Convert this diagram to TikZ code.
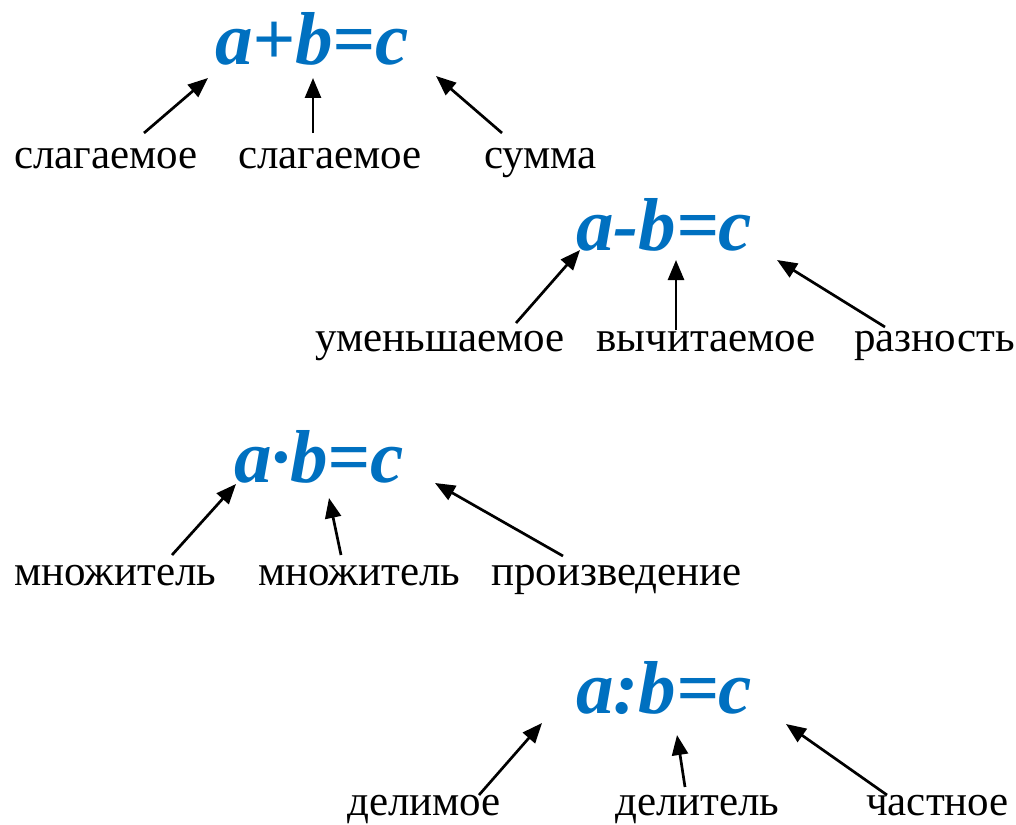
\documentclass[tikz,border=0pt]{standalone}
\usepackage{fontspec}
\setmainfont{Liberation Serif}
\usetikzlibrary{arrows.meta}
\definecolor{formulablue}{HTML}{0070C0}
\tikzset{
  formula/.style={anchor=base west, inner sep=0pt, text=formulablue,
    font=\fontsize{75}{82}\selectfont\bfseries\itshape},
  term/.style={anchor=base west, inner sep=0pt, font=\fontsize{43}{49}\selectfont},
  pointer/.style={line width=2.7pt, -{Triangle[length=20pt,width=16pt]}}
}
\begin{document}
\begin{tikzpicture}[x=1pt,y=-1pt]
\useasboundingbox (0,0) rectangle (1016,824);

% addition
\node[formula] (f1) at (215,65) {a+b=c};
\node[term] (s1) at (14,168) {слагаемое};
\node[term] (s2) at (238,168) {слагаемое};
\node[term] (s3) at (484,168) {сумма};
\coordinate (s1t) at (144,133); \coordinate (f1a) at (208,78);
\coordinate (s2t) at (313,133); \coordinate (f1b) at (313,78);
\coordinate (s3t) at (502,133); \coordinate (f1c) at (436,76);
\draw[pointer] (s1t) -- (f1a);
\draw[pointer] (s2t) -- (f1b);
\draw[pointer] (s3t) -- (f1c);

% subtraction
\node[formula] (f2) at (576,250) {a-b=c};
\node[term] (d1) at (315,351) {уменьшаемое};
\node[term] (d2) at (596,351) {вычитаемое};
\node[term] (d3) at (854,351) {разность};
\coordinate (d1t) at (516,323); \coordinate (f2a) at (580,250);
\coordinate (d2t) at (676,330); \coordinate (f2b) at (676,260);
\coordinate (d3t) at (885,327); \coordinate (f2c) at (777,260);
\draw[pointer] (d1t) -- (f2a);
\draw[pointer] (d2t) -- (f2b);
\draw[pointer] (d3t) -- (f2c);

% multiplication
\node[formula] (f3) at (234,482) {a·b=c};
\node[term] (m1) at (14,585) {множитель};
\node[term] (m2) at (258,585) {множитель};
\node[term] (m3) at (491,585) {произведение};
\coordinate (m1t) at (172,555); \coordinate (f3a) at (236,484);
\coordinate (m2t) at (341,555); \coordinate (f3b) at (329,498);
\coordinate (m3t) at (563,556); \coordinate (f3c) at (435,483);
\draw[pointer] (m1t) -- (f3a);
\draw[pointer] (m2t) -- (f3b);
\draw[pointer] (m3t) -- (f3c);

% division
\node[formula] (f4) at (576,713) {a:b=c};
\node[term] (q1) at (347,815) {делимое};
\node[term] (q2) at (615,815) {делитель};
\node[term] (q3) at (866,815) {частное};
\coordinate (q1t) at (479,795); \coordinate (f4a) at (542,723);
\coordinate (q2t) at (685,787); \coordinate (f4b) at (677,735);
\coordinate (q3t) at (887,795); \coordinate (f4c) at (786,724);
\draw[pointer] (q1t) -- (f4a);
\draw[pointer] (q2t) -- (f4b);
\draw[pointer] (q3t) -- (f4c);
\end{tikzpicture}
\end{document}
